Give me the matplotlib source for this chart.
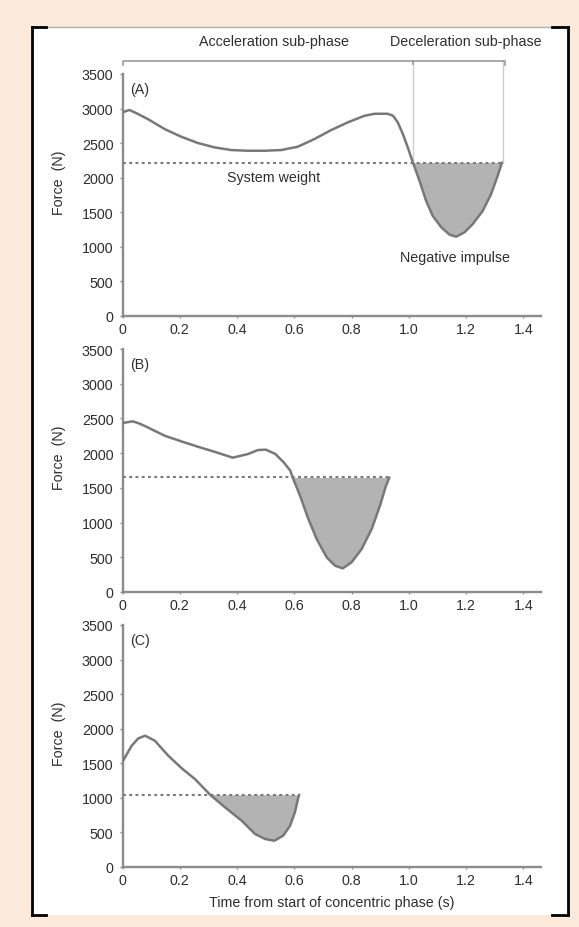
import matplotlib
matplotlib.use("Agg")
import matplotlib.pyplot as plt
from matplotlib.lines import Line2D
from matplotlib.patches import Rectangle
import numpy as np

plt.rcParams['font.family'] = ['Liberation Sans', 'DejaVu Sans']

# ---------------- data ----------------
t_a = [0.000, 0.024, 0.050, 0.088, 0.147, 0.205, 0.263, 0.321, 0.380, 0.438,
       0.496, 0.554, 0.612, 0.670, 0.729, 0.787, 0.845, 0.880, 0.926, 0.945,
       0.961, 0.979, 0.996, 1.014, 1.037, 1.060, 1.083, 1.113, 1.142, 1.165,
       1.194, 1.223, 1.258, 1.287, 1.310, 1.325]
f_a = [2946, 2980, 2930, 2849, 2704, 2593, 2502, 2439, 2400, 2390,
       2390, 2400, 2448, 2559, 2690, 2801, 2896, 2925, 2925, 2895,
       2801, 2632, 2439, 2220, 1956, 1667, 1450, 1283, 1176, 1147,
       1210, 1330, 1523, 1764, 2029, 2220]
weight_a = 2220

t_b = [0.000, 0.036, 0.060, 0.088, 0.147, 0.205, 0.263, 0.321, 0.385, 0.438,
       0.473, 0.501, 0.534, 0.563, 0.586, 0.594, 0.620, 0.649, 0.678, 0.713,
       0.742, 0.769, 0.800, 0.835, 0.870, 0.899, 0.920, 0.932]
f_b = [2434, 2458, 2425, 2371, 2251, 2170, 2093, 2020, 1935, 1987,
       2045, 2050, 1987, 1867, 1747, 1650, 1387, 1051, 763, 499,
       379, 341, 428, 619, 907, 1243, 1531, 1650]
weight_b = 1650

t_c = [0.000, 0.032, 0.055, 0.079, 0.113, 0.160, 0.207, 0.253, 0.306, 0.358,
       0.416, 0.463, 0.498, 0.530, 0.561, 0.585, 0.602, 0.614, 0.617]
f_c = [1523, 1754, 1860, 1899, 1826, 1609, 1427, 1272, 1045, 863,
       670, 477, 405, 380, 453, 597, 791, 1008, 1045]
weight_c = 1045

panel_labels = ['(A)', '(B)', '(C)']
x_ticks = [0, 0.2, 0.4, 0.6, 0.8, 1.0, 1.2, 1.4]
x_ticklabels = ['0', '0.2', '0.4', '0.6', '0.8', '1.0', '1.2', '1.4']
y_ticks = [0, 500, 1000, 1500, 2000, 2500, 3000, 3500]
y_ticklabels = ['0', '500', '1000', '1500', '2000', '2500', '3000', '3500']

# ---------------- figure ----------------
W, H = 579, 928
fig = plt.figure(figsize=(W / 100, H / 100), dpi=100)
fig.patch.set_facecolor('#fbe9dc')

def fx(px):
    return px / W

def fy(py):
    return 1 - py / H

# white box
fig.add_artist(Rectangle((fx(32), fy(916)), fx(568) - fx(32), fy(28) - fy(916),
                         transform=fig.transFigure, facecolor='white',
                         edgecolor='none', zorder=-5))
border_kw = dict(transform=fig.transFigure, color='black', lw=2.0, zorder=-4)
fig.add_artist(Line2D([fx(32), fx(32)], [fy(28), fy(916)], **border_kw))
fig.add_artist(Line2D([fx(568), fx(568)], [fy(28), fy(916)], **border_kw))
fig.add_artist(Line2D([fx(32), fx(568)], [fy(28), fy(28)], transform=fig.transFigure,
                      color='#b0b0b0', lw=1.0, zorder=-4))
for x0, x1 in [(32, 46), (552, 568)]:
    fig.add_artist(Line2D([fx(x0), fx(x1)], [fy(28), fy(28)], **border_kw))
    fig.add_artist(Line2D([fx(x0), fx(x1)], [fy(916), fy(916)], **border_kw))

# axes: (top px, bottom px)
left_px, right_px = 122.5, 540.6
px_per_unit = 286.4
xmax = (right_px - left_px) / px_per_unit
panels = [(75, 317), (350, 593), (626, 868)]
data = [(t_a, f_a, weight_a), (t_b, f_b, weight_b), (t_c, f_c, weight_c)]

axis_col = '#8c8c8c'
line_col = '#787878'
fill_col = '#b3b3b3'
text_col = '#2e2e2e'
fs = 10.3

axes = []
for i, ((top, bot), (t, f, w)) in enumerate(zip(panels, data)):
    ax = fig.add_axes([fx(left_px), fy(bot), fx(right_px) - fx(left_px), (bot - top) / H])
    ax.set_facecolor('none')
    t = np.array(t)
    f = np.array(f)
    ax.plot(t, f, color=line_col, lw=1.8, zorder=3, solid_capstyle='round',
            solid_joinstyle='round')
    ax.fill_between(t, f, w, where=(f <= w + 1) & (t >= t[np.argmax(f <= w)]),
                    color=fill_col, lw=0, zorder=2, interpolate=True)
    ax.plot([0, t[-1]], [w, w], color='#7a7a7a', lw=1.5,
            linestyle=(0, (1.4, 1.6)), zorder=4)
    ax.set_xlim(0, xmax)
    ax.set_ylim(0, 3500)
    for s in ['top', 'right']:
        ax.spines[s].set_visible(False)
    for s in ['left', 'bottom']:
        ax.spines[s].set_color(axis_col)
        ax.spines[s].set_linewidth(1.7)
    ax.set_xticks(x_ticks)
    ax.set_xticklabels(x_ticklabels)
    ax.set_yticks(y_ticks)
    ax.set_yticklabels(y_ticklabels)
    ax.tick_params(axis='y', length=2.0, width=1.0, color=axis_col, pad=4.5,
                   labelsize=fs, labelcolor=text_col)
    ax.tick_params(axis='x', length=1.5, width=1.0, color=axis_col, pad=3.0,
                   labelsize=fs, labelcolor=text_col)
    ax.set_ylabel('Force  (N)', fontsize=fs, color=text_col)
    ax.yaxis.set_label_coords(-0.135, 0.555)
    ax.text(0.025, 3290, panel_labels[i], fontsize=fs, color=text_col,
            ha='left', va='center')
    axes.append(ax)

axA = axes[0]
# bracket and phase annotations
br_y = 3690
axA.plot([0, 0, 1.336, 1.336], [br_y - 60, br_y, br_y, br_y - 60], color='#9a9a9a',
         lw=1.2, clip_on=False, zorder=3)
axA.plot([1.014, 1.014], [br_y, weight_a], color='#cfcfcf', lw=1.0, clip_on=False, zorder=1)
axA.plot([1.328, 1.328], [br_y, weight_a], color='#cfcfcf', lw=1.0, clip_on=False, zorder=1)
axA.plot([1.014, 1.014], [br_y, br_y - 50], color='#9a9a9a', lw=1.2, clip_on=False, zorder=3)
axA.text(0.53, 3977, 'Acceleration sub-phase', fontsize=fs, color=text_col,
         ha='center', va='center', clip_on=False)
axA.text(1.20, 3977, 'Deceleration sub-phase', fontsize=fs, color=text_col,
         ha='center', va='center', clip_on=False)
axA.text(0.528, 2010, 'System weight', fontsize=fs, color=text_col,
         ha='center', va='center')
axA.text(1.161, 853, 'Negative impulse', fontsize=fs, color=text_col,
         ha='center', va='center')

axes[2].set_xlabel('Time from start of concentric phase (s)', fontsize=fs, color=text_col)
axes[2].xaxis.set_label_coords(0.5, -0.115)

fig.savefig('out.png', dpi=100, facecolor=fig.get_facecolor())
